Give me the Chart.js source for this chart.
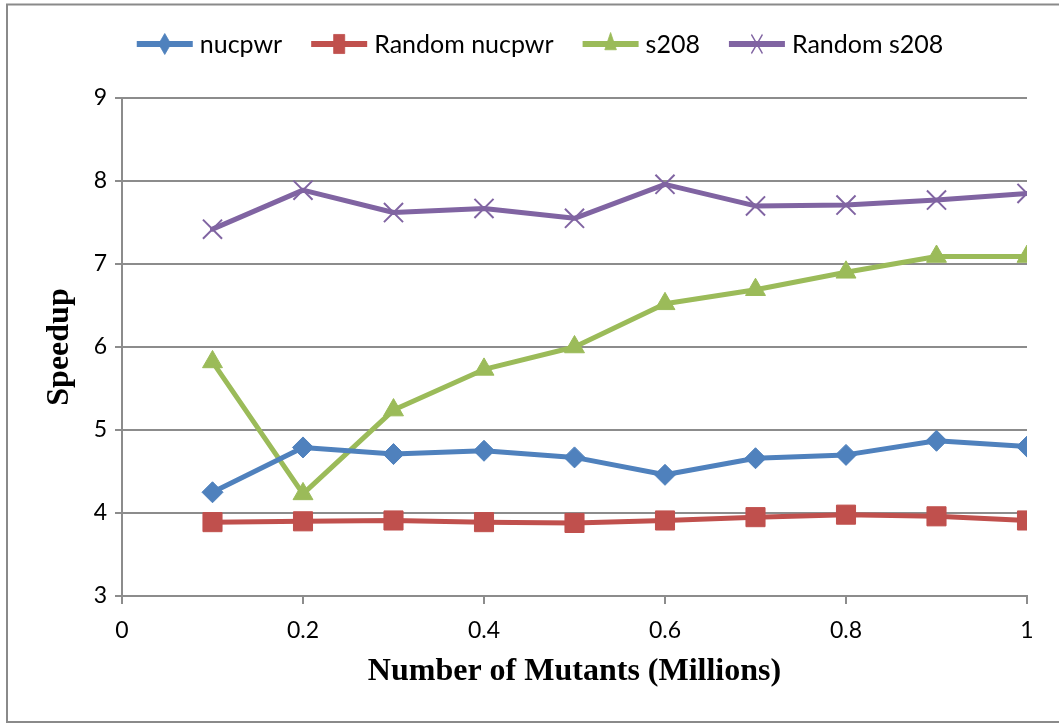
<!DOCTYPE html>
<html>
<head>
<meta charset="utf-8">
<script src="https://cdn.jsdelivr.net/npm/chart.js@4.4.1/dist/chart.umd.min.js"></script>
<style>
  html, body { margin: 0; padding: 0; background: #ffffff; }
  #wrap { width: 1059px; height: 724px; }
</style>
</head>
<body>
<div id="wrap"><canvas id="speedup" width="1059" height="724"></canvas></div>
<script>
// Mutant counts (millions) along the x axis
const mutants = [0.1, 0.2, 0.3, 0.4, 0.5, 0.6, 0.7, 0.8, 0.9, 1.0];

// Speedup per benchmark
const nucpwr       = [4.25, 4.79, 4.71, 4.75, 4.67, 4.46, 4.66, 4.70, 4.87, 4.80];
const randomNucpwr = [3.89, 3.90, 3.91, 3.89, 3.88, 3.91, 3.95, 3.98, 3.96, 3.91];
const s208         = [5.82, 4.23, 5.24, 5.73, 6.00, 6.52, 6.69, 6.90, 7.09, 7.09];
const randomS208   = [7.42, 7.89, 7.62, 7.67, 7.55, 7.96, 7.70, 7.71, 7.77, 7.85];

const seriesNames = ['nucpwr', 'Random nucpwr', 's208', 'Random s208'];

// Axis tick values
const xTickValues = [0, 0.2, 0.4, 0.6, 0.8, 1];
const yTickValues = [3, 4, 5, 6, 7, 8, 9];

const GRID = '#8c8c8c';
const TICK_FONT = { family: 'Lato', size: 23 };
const TITLE_FONT = { family: 'Liberation Serif', size: 32, weight: 'bold' };

function points(values) {
  return mutants.map((m, i) => ({ x: m, y: values[i] }));
}

function series(label, values, color, style, radius, borderW) {
  return {
    label: label,
    data: points(values),
    borderColor: color,
    backgroundColor: color,
    borderWidth: 5,
    borderJoinStyle: 'round',
    borderCapStyle: 'round',
    pointStyle: style,
    pointRadius: radius,
    pointHoverRadius: radius,
    pointBackgroundColor: color,
    pointBorderColor: color,
    pointBorderWidth: borderW,
    tension: 0
  };
}

// Frame around the whole figure
const frame = {
  id: 'frame',
  beforeDraw(chart) {
    const ctx = chart.ctx;
    ctx.save();
    ctx.fillStyle = '#ffffff';
    ctx.fillRect(0, 0, chart.width, chart.height);
    ctx.strokeStyle = '#8a8a8a';
    ctx.lineWidth = 2;
    ctx.beginPath();
    ctx.moveTo(chart.width + 2, 4.5);
    ctx.lineTo(7, 4.5);
    ctx.lineTo(7, 722);
    ctx.lineTo(chart.width + 2, 722);
    ctx.stroke();
    ctx.restore();
  }
};

// Legend: a line sample with the series marker in the middle, then the name
const lineLegend = {
  id: 'lineLegend',
  afterDraw(chart, args, opts) {
    const ctx = chart.ctx;
    ctx.save();
    ctx.font = opts.font;
    const items = chart.data.datasets.map(ds => ({ ds, w: ctx.measureText(ds.label).width }));
    const total = items.reduce((s, it) => s + opts.lineLen + opts.textGap + it.w, 0)
                + opts.itemGap * (items.length - 1);
    let x = opts.centerX - total / 2;
    const y = opts.y;
    items.forEach(it => {
      const ds = it.ds;
      ctx.strokeStyle = ds.borderColor;
      ctx.lineWidth = opts.lineWidth;
      ctx.lineCap = 'butt';
      ctx.beginPath();
      ctx.moveTo(x, y);
      ctx.lineTo(x + opts.lineLen, y);
      ctx.stroke();

      ctx.save();
      ctx.translate(x + opts.lineLen / 2, y);
      ctx.scale(opts.markerSquash, 1);
      ctx.fillStyle = ds.pointBackgroundColor;
      ctx.strokeStyle = ds.pointBorderColor;
      ctx.lineWidth = ds.pointBorderWidth;
      Chart.helpers.drawPoint(ctx, {
        pointStyle: ds.pointStyle,
        radius: ds.pointRadius * opts.markerScale,
        borderWidth: ds.pointBorderWidth,
        rotation: 0
      }, 0, 0);
      ctx.restore();

      ctx.fillStyle = '#000000';
      ctx.textBaseline = 'middle';
      ctx.textAlign = 'left';
      ctx.fillText(ds.label, x + opts.lineLen + opts.textGap, y + 1);
      x += opts.lineLen + opts.textGap + it.w + opts.itemGap;
    });
    ctx.restore();
  }
};

new Chart(document.getElementById('speedup'), {
  type: 'line',
  data: {
    datasets: [
      series(seriesNames[0], nucpwr,       '#4f81bd', 'rectRot',  10.5, 1),
      series(seriesNames[1], randomNucpwr, '#c0504d', 'rect',     13.5, 1),
      series(seriesNames[2], s208,         '#9bbb59', 'triangle', 11.5, 1),
      series(seriesNames[3], randomS208,   '#8064a2', 'crossRot', 13.5, 2)
    ]
  },
  options: {
    responsive: false,
    animation: false,
    devicePixelRatio: 1,
    layout: { padding: { top: 98, right: 32, bottom: 0, left: 0 } },
    plugins: {
      legend: { display: false },
      tooltip: { enabled: false },
      lineLegend: {
        font: '25px Lato',
        centerX: 540,
        y: 44,
        lineLen: 56,
        lineWidth: 6,
        textGap: 7,
        itemGap: 29,
        markerScale: 1.0,
        markerSquash: 0.58
      }
    },
    scales: {
      x: {
        type: 'linear',
        min: 0,
        max: 1,
        afterBuildTicks: s => { s.ticks = xTickValues.map(v => ({ value: v })); },
        afterFit: s => { s.height = 128; },
        ticks: {
          font: TICK_FONT,
          color: '#000000',
          padding: 13,
          maxRotation: 0,
          callback: v => String(Number(v.toFixed(1)))
        },
        grid: { drawOnChartArea: false, drawTicks: true, tickLength: 8, color: GRID, lineWidth: 2 },
        border: { color: GRID, width: 2 },
        title: {
          display: true,
          text: 'Number of Mutants (Millions)',
          font: TITLE_FONT,
          color: '#000000',
          padding: { top: 0, bottom: 33 }
        }
      },
      y: {
        min: 3,
        max: 9,
        afterBuildTicks: s => { s.ticks = yTickValues.map(v => ({ value: v })); },
        afterFit: s => { s.width = 122; },
        ticks: { font: TICK_FONT, color: '#000000', padding: 8 },
        grid: { color: GRID, lineWidth: 2, tickLength: 7 },
        border: { color: GRID, width: 2 },
        title: {
          display: true,
          text: 'Speedup',
          font: TITLE_FONT,
          color: '#000000',
          padding: { top: 41, bottom: 0 }
        }
      }
    }
  },
  plugins: [frame, lineLegend]
});
</script>
</body>
</html>
